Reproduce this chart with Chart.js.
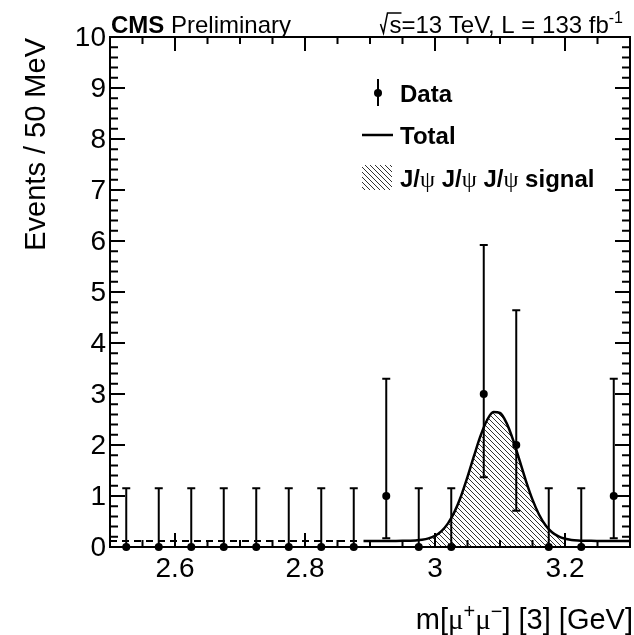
<!DOCTYPE html>
<html>
<head>
<meta charset="utf-8">
<script src="https://cdn.jsdelivr.net/npm/chart.js@4.4.1/dist/chart.umd.min.js"></script>
<style>
  html, body { margin: 0; padding: 0; background: #fff; }
  #wrap { width: 634px; height: 635px; }
</style>
</head>
<body>
<div id="wrap"><canvas id="c" width="634" height="635"></canvas></div>
<script>
// binned data, 50 MeV bins
const binCenters = [2.525, 2.575, 2.625, 2.675, 2.725, 2.775, 2.825, 2.875,
                    2.925, 2.975, 3.025, 3.075, 3.125, 3.175, 3.225, 3.275];
const counts     = [0, 0, 0, 0, 0, 0, 0, 0, 1, 0, 0, 3, 2, 0, 0, 1];
const errLow     = [0, 0, 0, 0, 0, 0, 0, 0, 0.17, 0, 0, 1.37, 0.71, 0, 0, 0.17];
const errHigh    = [1.15, 1.15, 1.15, 1.15, 1.15, 1.15, 1.15, 1.15,
                    3.30, 1.15, 1.15, 5.92, 4.64, 1.15, 1.15, 3.30];

// fit curve
const fitX = [2.89, 2.90, 2.91, 2.92, 2.93, 2.94, 2.95, 2.96, 2.97, 2.98, 2.99,
              3.00, 3.01, 3.02, 3.03, 3.04, 3.05, 3.06, 3.07, 3.08, 3.09,
              3.10, 3.11, 3.12, 3.13, 3.14, 3.15, 3.16, 3.17, 3.18, 3.19,
              3.20, 3.21, 3.22, 3.23, 3.24, 3.25, 3.26, 3.27, 3.28, 3.29, 3.30];
const totalFit = [0.12, 0.12, 0.12, 0.12, 0.12, 0.12, 0.121, 0.124, 0.129, 0.142, 0.169,
                  0.221, 0.313, 0.464, 0.689, 0.996, 1.373, 1.785, 2.178, 2.485, 2.645,
                  2.627, 2.433, 2.104, 1.702, 1.293, 0.928, 0.637, 0.428, 0.290, 0.208,
                  0.162, 0.139, 0.128, 0.123, 0.121, 0.12, 0.12, 0.12, 0.12, 0.12, 0.12];
const signalX = [2.99, 3.00, 3.01, 3.02, 3.03, 3.04, 3.05, 3.06, 3.07, 3.08, 3.09,
                 3.10, 3.11, 3.12, 3.13, 3.14, 3.15, 3.16, 3.17, 3.18, 3.19, 3.20];
const signalFit = [0.169, 0.221, 0.313, 0.464, 0.689, 0.996, 1.373, 1.785, 2.178, 2.485, 2.645,
                   2.627, 2.433, 2.104, 1.702, 1.293, 0.928, 0.637, 0.428, 0.290, 0.208, 0.162];
const bkgX = [2.50, 2.88];
const bkgLevel = [0.12, 0.12];

const xTickVals = [2.6, 2.8, 3.0, 3.2];
const xTickLabels = ["2.6", "2.8", "3", "3.2"];
const yTickLabels = ["0", "1", "2", "3", "4", "5", "6", "7", "8", "9", "10"];

const SANS = "'Liberation Sans', Arial, sans-serif";
const SERIF = "'Liberation Serif', 'DejaVu Serif', serif";

function makeHatch(ctx) {
    const s = 5;
    const c = document.createElement("canvas");
    c.width = s; c.height = s;
    const g = c.getContext("2d");
    g.strokeStyle = "#333";
    g.lineWidth = 1;
    g.beginPath();
    g.moveTo(0, 0); g.lineTo(s, s);
    g.moveTo(-1, s - 1); g.lineTo(1, s + 1);
    g.moveTo(s - 1, -1); g.lineTo(s + 1, 1);
    g.stroke();
    return ctx.createPattern(c, "repeat");
}

const canvas = document.getElementById("c");
const ctx0 = canvas.getContext("2d");
const hatch = makeHatch(ctx0);

function pts(xs, ys) {
    return xs.map((x, i) => ({ x: x, y: ys[i] }));
}

function seg(ctx, parts, x, y) {
    // draw list of [text, font, dy] left to right
    parts.forEach(p => {
        ctx.font = p[1];
        ctx.fillText(p[0], x, y + (p[2] || 0));
        x += ctx.measureText(p[0]).width;
    });
    return x;
}
function segWidth(ctx, parts) {
    let w = 0;
    parts.forEach(p => { ctx.font = p[1]; w += ctx.measureText(p[0]).width; });
    return w;
}

const errorBars = {
    id: "errorBars",
    afterDatasetsDraw(chart) {
        const { ctx, scales: { x, y } } = chart;
        ctx.save();
        ctx.strokeStyle = "#000";
        ctx.lineWidth = 2;
        binCenters.forEach((bx, i) => {
            const px = x.getPixelForValue(bx);
            const lo = y.getPixelForValue(errLow[i]);
            const hi = y.getPixelForValue(errHigh[i]);
            ctx.beginPath();
            ctx.moveTo(px, lo); ctx.lineTo(px, hi);
            ctx.moveTo(px - 4, hi); ctx.lineTo(px + 4, hi);
            if (errLow[i] > 0) { ctx.moveTo(px - 4, lo); ctx.lineTo(px + 4, lo); }
            ctx.stroke();
        });
        ctx.restore();
    }
};

const frame = {
    id: "frame",
    afterDraw(chart) {
        const { ctx, chartArea: a, scales: { x, y } } = chart;
        ctx.save();
        ctx.strokeStyle = "#000";
        ctx.fillStyle = "#000";
        ctx.lineWidth = 2;
        ctx.strokeRect(a.left, a.top, a.right - a.left, a.bottom - a.top);

        ctx.beginPath();
        for (let i = 0; i <= 50; i++) {
            const py = y.getPixelForValue(i * 0.2);
            const len = i % 5 === 0 ? 15 : 8;
            ctx.moveTo(a.left, py); ctx.lineTo(a.left + len, py);
            ctx.moveTo(a.right, py); ctx.lineTo(a.right - len, py);
        }
        for (let i = 0; i <= 16; i++) {
            const px = x.getPixelForValue(2.5 + i * 0.05);
            const len = (i % 4 === 2) ? 14 : 7;
            ctx.moveTo(px, a.bottom); ctx.lineTo(px, a.bottom - len);
            ctx.moveTo(px, a.top); ctx.lineTo(px, a.top + len);
        }
        ctx.stroke();

        // tick labels
        ctx.font = "28px " + SANS;
        ctx.textAlign = "right";
        ctx.textBaseline = "middle";
        yTickLabels.forEach((t, i) => {
            ctx.fillText(t, a.left - 4, y.getPixelForValue(i) + 1);
        });
        ctx.textAlign = "center";
        ctx.textBaseline = "alphabetic";
        xTickVals.forEach((v, i) => {
            ctx.fillText(xTickLabels[i], x.getPixelForValue(v), a.bottom + 30);
        });

        // y title
        ctx.save();
        ctx.translate(45, a.top + 1);
        ctx.rotate(-Math.PI / 2);
        ctx.textAlign = "right";
        ctx.font = "29px " + SANS;
        ctx.fillText("Events / 50 MeV", 0, 0);
        ctx.restore();

        // x title
        ctx.textAlign = "left";
        const F = "29px " + SANS, FG = "29px " + SERIF, FS = "20px " + SANS;
        const xt = [["m[", F], ["\u03bc", FG], ["+", FS, -11], ["\u03bc", FG], ["\u2212", FS, -11],
                    ["] [3] [GeV]", F]];
        seg(ctx, xt, 633 - segWidth(ctx, xt), 629);

        // header
        const H = "24px " + SANS, HB = "bold 24px " + SANS, HS = "16px " + SANS;
        seg(ctx, [["CMS", HB], [" Preliminary", H]], 111, 33);
        const rest = [["=13 TeV, L = 133 fb", H], ["-1", HS, -10]];
        ctx.font = H;
        const wS = ctx.measureText("s").width;
        const xs = 623 - segWidth(ctx, rest) - wS;
        ctx.font = H;
        ctx.fillText("s", xs, 33);
        seg(ctx, rest, xs + wS, 33);
        ctx.lineWidth = 1.5;
        ctx.beginPath();
        ctx.moveTo(xs - 9, 24); ctx.lineTo(xs - 6, 33); ctx.lineTo(xs - 2, 13); ctx.lineTo(xs + wS, 13);
        ctx.stroke();

        // legend
        ctx.lineWidth = 2;
        ctx.beginPath();
        ctx.moveTo(378, 79); ctx.lineTo(378, 106);
        ctx.stroke();
        ctx.beginPath(); ctx.arc(378, 93, 4, 0, Math.PI * 2); ctx.fill();
        ctx.lineWidth = 2.5;
        ctx.beginPath(); ctx.moveTo(362, 135); ctx.lineTo(393, 135); ctx.stroke();
        ctx.fillStyle = hatch;
        ctx.fillRect(362, 165, 30, 25);
        ctx.fillStyle = "#000";
        const B = "bold 24px " + SANS, BG = "24px " + SERIF;
        seg(ctx, [["Data", B]], 400, 102);
        seg(ctx, [["Total", B]], 400, 144);
        seg(ctx, [["J/", B], ["\u03c8", BG], [" J/", B], ["\u03c8", BG], [" J/", B], ["\u03c8", BG], [" signal", B]], 400, 187);
        ctx.restore();
    }
};

new Chart(canvas, {
    type: "line",
    data: {
        datasets: [
            {
                label: "Data",
                data: pts(binCenters, counts),
                showLine: false,
                pointRadius: 4,
                pointBackgroundColor: "#000",
                pointBorderColor: "#000",
                pointBorderWidth: 0,
                clip: false,
                order: 1
            },
            {
                label: "Total",
                data: pts(fitX, totalFit),
                borderColor: "#000",
                borderWidth: 2.5,
                pointRadius: 0,
                cubicInterpolationMode: "monotone",
                fill: false,
                order: 2
            },
            {
                label: "Background",
                data: pts(bkgX, bkgLevel),
                borderColor: "#000",
                borderWidth: 2,
                borderDash: [7, 5],
                pointRadius: 0,
                fill: false,
                order: 3
            },
            {
                label: "J/psi J/psi J/psi signal",
                data: pts(signalX, signalFit),
                borderWidth: 0,
                borderColor: "rgba(0,0,0,0)",
                backgroundColor: hatch,
                pointRadius: 0,
                cubicInterpolationMode: "monotone",
                fill: "origin",
                order: 4
            }
        ]
    },
    options: {
        responsive: false,
        animation: false,
        layout: { padding: { left: 110, top: 37, right: 2, bottom: 88 } },
        scales: {
            x: { type: "linear", min: 2.5, max: 3.3, display: false },
            y: { type: "linear", min: 0, max: 10, display: false }
        },
        plugins: { legend: { display: false }, tooltip: { enabled: false } }
    },
    plugins: [errorBars, frame]
});
</script>
</body>
</html>
